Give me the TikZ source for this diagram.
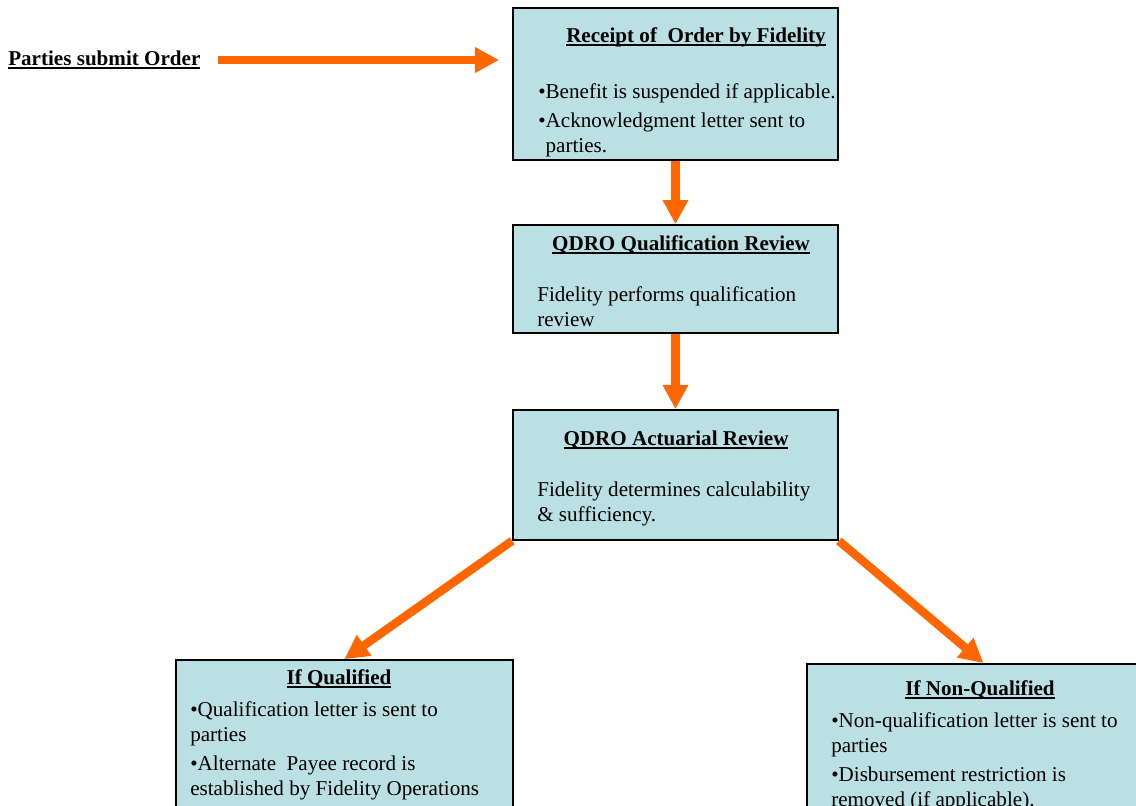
\documentclass[tikz,border=0pt]{standalone}
\usepackage{fontspec}
\setmainfont{Liberation Serif}
\usetikzlibrary{arrows.meta, positioning}
\definecolor{boxblue}{RGB}{187,224,227}
\definecolor{floworange}{RGB}{255,102,0}
\newcommand{\hdline}[1]{\setbox0\hbox{#1}\leavevmode\rlap{\rule[-2.6pt]{\wd0}{1.3pt}}\box0}
\begin{document}
\begin{tikzpicture}[x=0.025cm, y=-0.025cm,
    box/.style={rectangle, draw, line width=1.2pt, fill=boxblue, inner sep=0pt},
    head/.style={font=\fontsize{15}{18}\selectfont\bfseries, inner sep=0pt},
    body/.style={font=\fontsize{15}{17.8}\selectfont, align=left,
      anchor=north west, inner sep=0pt},
    flow/.style={draw=floworange, line width=6pt,
      -{Triangle[length=0.6cm, width=0.6cm]}}]
  \useasboundingbox (0,0) rectangle (1136,806);
  \node[box, minimum width=8.125cm, minimum height=3.8cm] (receipt) at (675.5,84) {};
  \node[head] (receipttitle) at (696,37) {\hdline{Receipt of\ \ Order by Fidelity}};
  \node[body] (receipttext) at (538,83) {•Benefit is suspended if applicable.\\[2.8pt]
    •Acknowledgment letter sent to\\\phantom{•}parties.};
  \node[box, minimum width=8.125cm, minimum height=2.7cm] (qualrev) at (675.5,279) {};
  \node[head] (qualtitle) at (681,245) {\hdline{QDRO Qualification Review}};
  \node[body] (qualtext) at (537,286) {Fidelity performs qualification\\review};
  \node[box, minimum width=8.125cm, minimum height=3.25cm] (actrev) at (675.5,475) {};
  \node[head] (acttitle) at (676,440) {\hdline{QDRO Actuarial Review}};
  \node[body] (acttext) at (537,482) {Fidelity determines calculability\\\& sufficiency.};
  \node[box, minimum width=8.425cm, minimum height=4.5cm] (qualified) at (344.5,750) {};
  \node[head] (qualifiedtitle) at (339,679) {\hdline{If Qualified}};
  \node[body] (qualifiedtext) at (190,701) {•Qualification letter is sent to\\parties\\[2.8pt]
    •Alternate\ \ Payee record is\\established by Fidelity Operations};
  \node[box, minimum width=8.825cm, minimum height=4.4cm] (nonqual) at (983.5,752) {};
  \node[head] (nonqualtitle) at (980,690) {\hdline{If Non-Qualified}};
  \node[body] (nonqualtext) at (831,712) {•Non-qualification letter is sent to\\parties\\[2.8pt]
    •Disbursement restriction is\\removed (if applicable).};
  \node[head, anchor=west] (parties) at (8,60) {\hdline{Parties submit Order}};
  \draw[flow, shorten <=0.425cm, shorten >=0.325cm] (parties.east) -- (receipt.west |- parties.east);
  \draw[flow] (receipt) -- (qualrev);
  \draw[flow] (qualrev) -- (actrev);
  \draw[flow] (actrev.south west) -- (qualified.north);
  \draw[flow] (actrev.south east) -- (nonqual.north);
\end{tikzpicture}
\end{document}
